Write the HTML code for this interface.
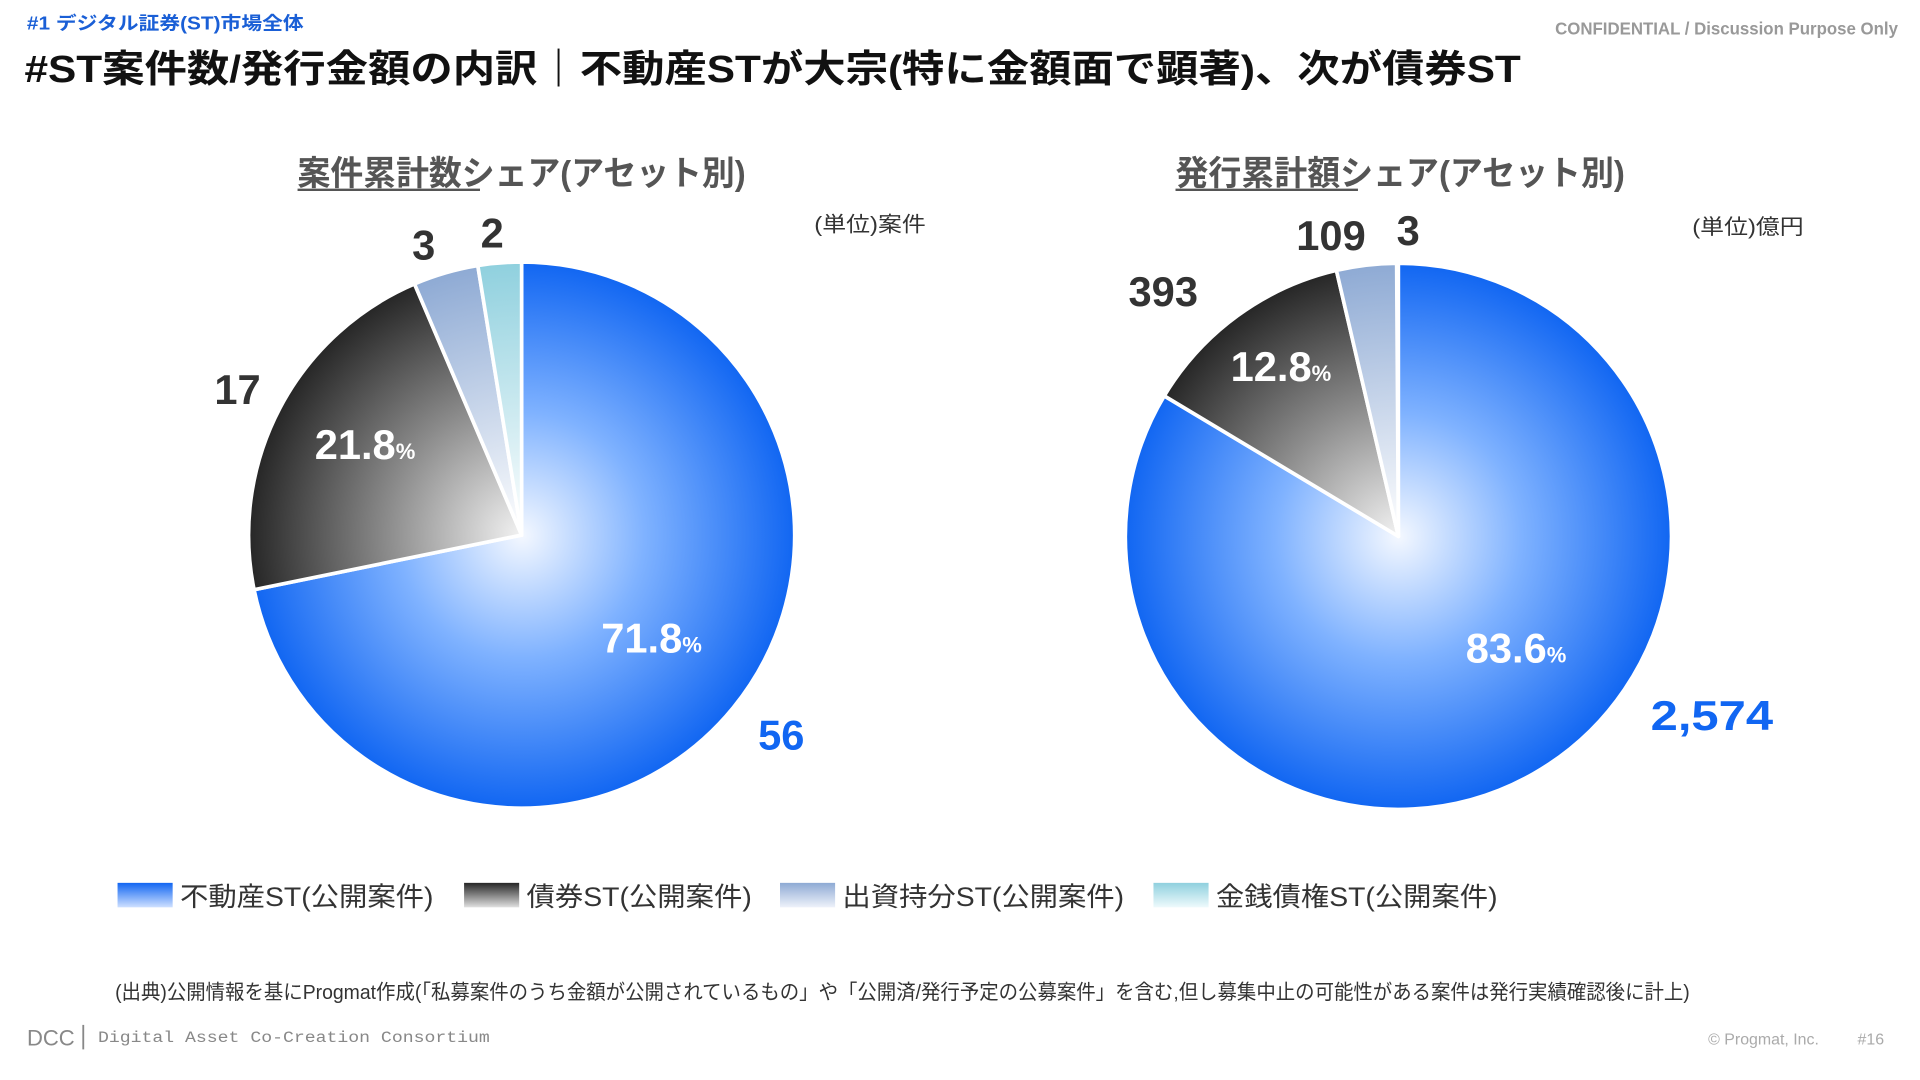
<!DOCTYPE html>
<html><head><meta charset="utf-8"><style>html,body{margin:0;padding:0;background:#fff;overflow:hidden}svg{display:block}</style></head>
<body>
<svg width="1920" height="1080" viewBox="0 0 1568 882" xmlns="http://www.w3.org/2000/svg" font-family="'Liberation Sans','Noto Sans CJK JP',sans-serif">
<defs>
<radialGradient id="bl" gradientUnits="userSpaceOnUse" cx="426" cy="437" r="223"><stop offset="0" stop-color="#f4f8ff"/><stop offset="0.45" stop-color="#7fb2ff"/><stop offset="1" stop-color="#1166f2"/></radialGradient>
<radialGradient id="dk" gradientUnits="userSpaceOnUse" cx="426" cy="437" r="223"><stop offset="0" stop-color="#f2f2f2"/><stop offset="0.5" stop-color="#8a8a8a"/><stop offset="1" stop-color="#262626"/></radialGradient>
<radialGradient id="lb" gradientUnits="userSpaceOnUse" cx="426" cy="437" r="223"><stop offset="0" stop-color="#ffffff"/><stop offset="1" stop-color="#8eaad4"/></radialGradient>
<radialGradient id="tl" gradientUnits="userSpaceOnUse" cx="426" cy="437" r="223"><stop offset="0" stop-color="#ffffff"/><stop offset="1" stop-color="#8fd0de"/></radialGradient>
<radialGradient id="bl2" gradientUnits="userSpaceOnUse" cx="1142" cy="438" r="223"><stop offset="0" stop-color="#f4f8ff"/><stop offset="0.45" stop-color="#7fb2ff"/><stop offset="1" stop-color="#1166f2"/></radialGradient>
<radialGradient id="dk2" gradientUnits="userSpaceOnUse" cx="1142" cy="438" r="223"><stop offset="0" stop-color="#f2f2f2"/><stop offset="0.5" stop-color="#8a8a8a"/><stop offset="1" stop-color="#262626"/></radialGradient>
<radialGradient id="lb2" gradientUnits="userSpaceOnUse" cx="1142" cy="438" r="223"><stop offset="0" stop-color="#ffffff"/><stop offset="1" stop-color="#8eaad4"/></radialGradient>
<linearGradient id="sb" x1="0" y1="0" x2="0" y2="1"><stop offset="0" stop-color="#1166f2"/><stop offset="1" stop-color="#cfe0ff"/></linearGradient>
<linearGradient id="sd" x1="0" y1="0" x2="0" y2="1"><stop offset="0" stop-color="#262626"/><stop offset="1" stop-color="#e0e0e0"/></linearGradient>
<linearGradient id="sl" x1="0" y1="0" x2="0" y2="1"><stop offset="0" stop-color="#8eaad4"/><stop offset="1" stop-color="#eef2fa"/></linearGradient>
<linearGradient id="st" x1="0" y1="0" x2="0" y2="1"><stop offset="0" stop-color="#8fd0de"/><stop offset="1" stop-color="#eefafc"/></linearGradient>
</defs>
<text x="22" y="24" font-size="15" font-weight="bold" fill="#1a5fd6" textLength="226" lengthAdjust="spacingAndGlyphs">#1 デジタル証券(ST)市場全体</text>
<text x="1270" y="28" font-size="14" font-weight="bold" fill="#999" textLength="280" lengthAdjust="spacingAndGlyphs">CONFIDENTIAL / Discussion Purpose Only</text>
<text x="20" y="67" font-size="31" font-weight="bold" fill="#111" textLength="1222" lengthAdjust="spacingAndGlyphs">#ST案件数/発行金額の内訳｜不動産STが大宗(特に金額面で顕著)、次が債券ST</text>
<text x="243" y="151" font-size="28" font-weight="bold" fill="#555" textLength="366" lengthAdjust="spacingAndGlyphs">案件累計数シェア(アセット別)</text>
<line x1="243" y1="155" x2="392" y2="155" stroke="#555" stroke-width="2"/>
<text x="960" y="151" font-size="28" font-weight="bold" fill="#555" textLength="367" lengthAdjust="spacingAndGlyphs">発行累計額シェア(アセット別)</text>
<line x1="960" y1="155" x2="1109" y2="155" stroke="#555" stroke-width="2"/>
<text x="665" y="189" font-size="17" fill="#333" textLength="91" lengthAdjust="spacingAndGlyphs">(単位)案件</text>
<text x="1382" y="191" font-size="17" fill="#333" textLength="91" lengthAdjust="spacingAndGlyphs">(単位)億円</text>
<g stroke="#fff" stroke-width="3" stroke-linejoin="round">
<path d="M426 437 L426 214 A223 223 0 1 1 207.5 481.6 Z" fill="url(#bl)"/>
<path d="M426 437 L207.5 481.6 A223 223 0 0 1 338.5 231.9 Z" fill="url(#dk)"/>
<path d="M426 437 L338.5 231.9 A223 223 0 0 1 390.2 216.9 Z" fill="url(#lb)"/>
<path d="M426 437 L390.2 216.9 A223 223 0 0 1 426 214 Z" fill="url(#tl)"/>
<path d="M1142 438 L1142 215 A223 223 0 1 1 950.8 323.3 Z" fill="url(#bl2)"/>
<path d="M1142 438 L950.8 323.3 A223 223 0 0 1 1091.4 220.8 Z" fill="url(#dk2)"/>
<path d="M1142 438 L1091.4 220.8 A223 223 0 0 1 1140.6 215 Z" fill="url(#lb2)"/>
</g>
<g font-weight="bold" font-size="34" fill="#333">
<text x="346" y="212" text-anchor="middle">3</text>
<text x="402" y="202" text-anchor="middle">2</text>
<text x="194" y="330" text-anchor="middle">17</text>
<text x="638" y="612" text-anchor="middle" fill="#1166f2">56</text>
<text x="1087" y="204" text-anchor="middle">109</text>
<text x="1150" y="200" text-anchor="middle">3</text>
<text x="950" y="250" text-anchor="middle">393</text>
<text x="1398" y="596" text-anchor="middle" fill="#1166f2" textLength="100" lengthAdjust="spacingAndGlyphs">2,574</text>
</g>
<g font-weight="bold" fill="#fff">
<text x="257" y="375" font-size="34">21.8<tspan font-size="18">%</tspan></text>
<text x="491" y="533" font-size="34">71.8<tspan font-size="18">%</tspan></text>
<text x="1005" y="311" font-size="34">12.8<tspan font-size="18">%</tspan></text>
<text x="1197" y="541" font-size="34">83.6<tspan font-size="18">%</tspan></text>
</g>
<g font-size="22" fill="#333">
<rect x="96" y="721" width="45" height="20" fill="url(#sb)"/><text x="147" y="740" textLength="207" lengthAdjust="spacingAndGlyphs">不動産ST(公開案件)</text>
<rect x="379" y="721" width="45" height="20" fill="url(#sd)"/><text x="430" y="740" textLength="184" lengthAdjust="spacingAndGlyphs">債券ST(公開案件)</text>
<rect x="637" y="721" width="45" height="20" fill="url(#sl)"/><text x="688" y="740" textLength="230" lengthAdjust="spacingAndGlyphs">出資持分ST(公開案件)</text>
<rect x="942" y="721" width="45" height="20" fill="url(#st)"/><text x="993" y="740" textLength="230" lengthAdjust="spacingAndGlyphs">金銭債権ST(公開案件)</text>
</g>
<text x="94" y="816" font-size="16.5" fill="#333" textLength="1286" lengthAdjust="spacingAndGlyphs">(出典)公開情報を基にProgmat作成(「私募案件のうち金額が公開されているもの」や「公開済/発行予定の公募案件」を含む,但し募集中止の可能性がある案件は発行実績確認後に計上)</text>
<text x="22" y="854" font-size="18" fill="#888">DCC</text>
<line x1="68" y1="837" x2="68" y2="857" stroke="#888" stroke-width="1.5"/>
<text x="80" y="851" font-size="13" fill="#888" font-family="'Liberation Mono',monospace" textLength="320" lengthAdjust="spacingAndGlyphs">Digital Asset Co-Creation Consortium</text>
<text x="1395" y="853" font-size="13" fill="#aaa">© Progmat, Inc.</text>
<text x="1517" y="853" font-size="13" fill="#aaa">#16</text>
</svg>
</body></html>
